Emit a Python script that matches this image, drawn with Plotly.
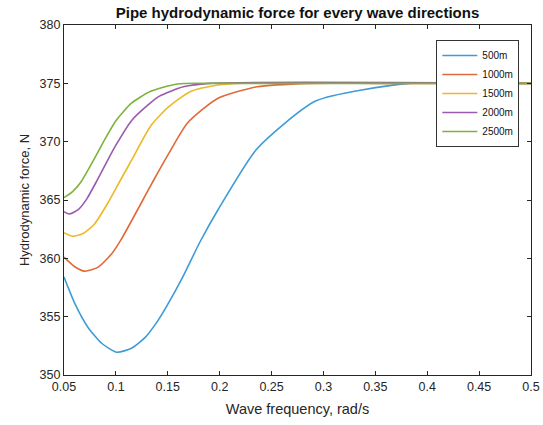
import plotly.graph_objects as go

labels = ["500m", "1000m", "1500m", "2000m", "2500m"]
colors = ["#3E9BD8", "#E06A38", "#EDB828", "#9A5BAE", "#7DB33A"]

x_500 = [0.05, 0.0606, 0.073, 0.0865, 0.101, 0.115, 0.128, 0.14, 0.149, 0.165, 0.181, 0.198, 0.236, 0.293, 0.382, 0.45, 0.5]
y_500 = [358.4, 356.1, 354.1, 352.7, 351.95, 352.3, 353.2, 354.6, 355.9, 358.5, 361.4, 364.1, 369.4, 373.5, 375.0, 375.0, 375.0]

x_1000 = [0.05, 0.06, 0.07, 0.083, 0.096, 0.105, 0.126, 0.137, 0.151, 0.169, 0.198, 0.236, 0.288, 0.35, 0.5]
y_1000 = [360.1, 359.3, 358.9, 359.25, 360.4, 361.6, 365.0, 366.8, 369.0, 371.6, 373.7, 374.7, 375.0, 375.0, 375.0]

x_1500 = [0.05, 0.058, 0.068, 0.079, 0.092, 0.105, 0.115, 0.134, 0.151, 0.172, 0.198, 0.215, 0.5]
y_1500 = [362.2, 361.9, 362.1, 362.9, 364.7, 366.8, 368.4, 371.4, 373.0, 374.3, 374.85, 375.0, 375.0]

x_2000 = [0.05, 0.055, 0.064, 0.072, 0.082, 0.092, 0.1, 0.115, 0.133, 0.142, 0.165, 0.19, 0.5]
y_2000 = [364.0, 363.8, 364.2, 365.1, 366.7, 368.4, 369.7, 371.8, 373.3, 373.9, 374.7, 375.0, 375.0]

x_2500 = [0.05, 0.058, 0.066, 0.079, 0.09, 0.1, 0.115, 0.133, 0.159, 0.19, 0.5]
y_2500 = [365.2, 365.7, 366.5, 368.5, 370.3, 371.8, 373.3, 374.3, 374.95, 375.0, 375.0]

xs = [x_500, x_1000, x_1500, x_2000, x_2500]
ys = [y_500, y_1000, y_1500, y_2000, y_2500]

x_ticks = [0.05, 0.1, 0.15, 0.2, 0.25, 0.3, 0.35, 0.4, 0.45, 0.5]
x_tick_text = ["0.05", "0.1", "0.15", "0.2", "0.25", "0.3", "0.35", "0.4", "0.45", "0.5"]
y_ticks = [350, 355, 360, 365, 370, 375, 380]

fig = go.Figure()
for xv, yv, name, c in zip(xs, ys, labels, colors):
    fig.add_trace(go.Scatter(
        x=xv, y=yv, name=name, mode="lines",
        line=dict(color=c, width=1.6, shape="spline", smoothing=0.6),
    ))

axis_color = "#262626"
fig.update_layout(
    width=543, height=425,
    margin=dict(l=64, r=12, t=25, b=50),
    paper_bgcolor="white", plot_bgcolor="white",
    font=dict(family="Liberation Sans, Arial, sans-serif", size=12, color=axis_color),
    title=dict(text="<b>Pipe hydrodynamic force for every wave directions</b>",
               x=0.5, xanchor="center", xref="paper", y=0.97, yanchor="middle",
               font=dict(size=15, color="#111111")),
    showlegend=True,
    legend=dict(x=0.975, y=0.957, xanchor="right", yanchor="top",
                bgcolor="white", bordercolor="#333333", borderwidth=1,
                font=dict(size=10, color="#111111"),
                itemwidth=35, tracegroupgap=0),
    xaxis=dict(range=[0.05, 0.5], tickvals=x_ticks, ticktext=x_tick_text,
               automargin=False,
               showgrid=False, zeroline=False, showline=True, linecolor=axis_color,
               linewidth=1.2, mirror="ticks", ticks="inside", ticklen=4,
               tickcolor=axis_color, tickfont=dict(size=12.5),
               title=dict(text="Wave frequency, rad/s", font=dict(size=14.5), standoff=10)),
    yaxis=dict(range=[350, 380], tickvals=y_ticks,
               automargin=False,
               showgrid=False, zeroline=False, showline=True, linecolor=axis_color,
               linewidth=1.2, mirror="ticks", ticks="inside", ticklen=4,
               tickcolor=axis_color, tickfont=dict(size=12.5),
               title=dict(text="Hydrodynamic force, N", font=dict(size=13), standoff=6)),
)

fig.write_html("out.html")
